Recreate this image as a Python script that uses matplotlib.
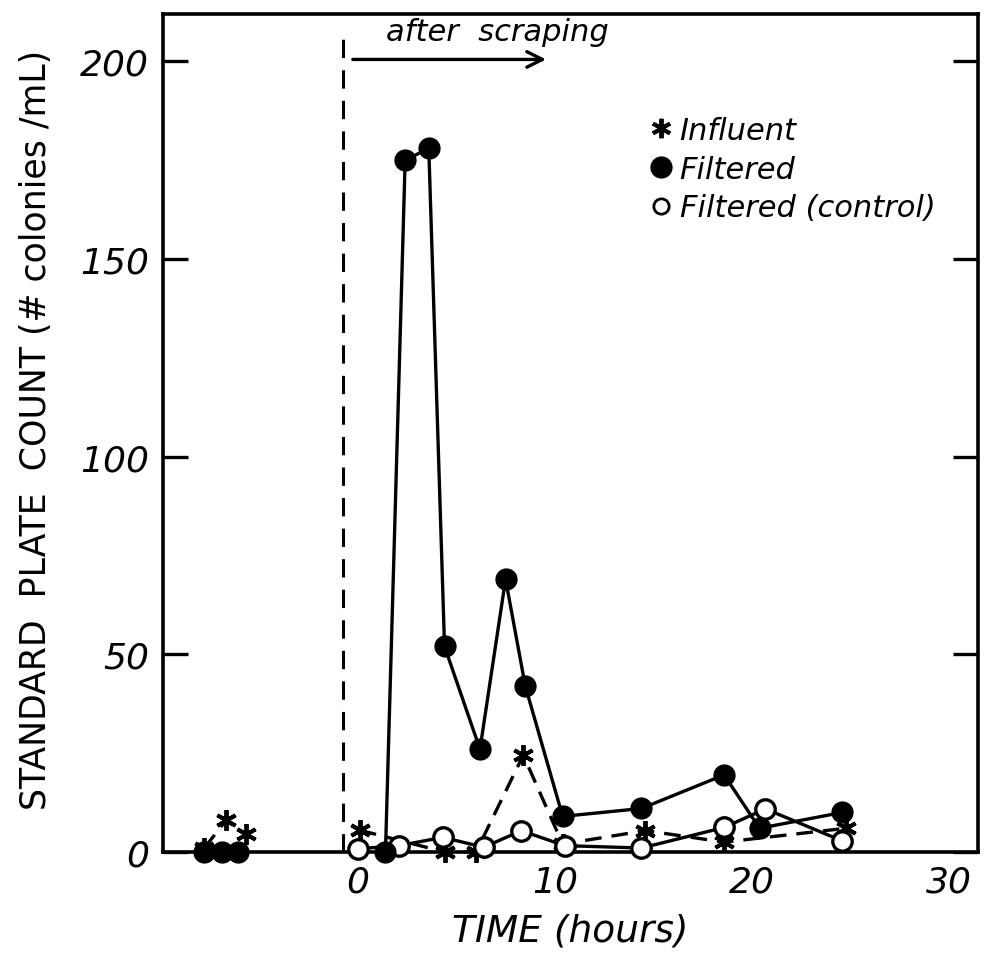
import matplotlib
matplotlib.use("Agg")
import matplotlib.pyplot as plt
from matplotlib.lines import Line2D

# Filtered (filled circles), before and after scraping
filt_pre_t = [-7.8, -6.9, -6.1]
filt_pre_v = [0, 0, 0]
filt_t = [1.4, 2.4, 3.6, 4.4, 6.2, 7.5, 8.5, 10.4, 14.4, 18.6, 20.4, 24.6]
filt_v = [0, 175, 178, 52, 26, 69, 42, 9, 11, 19.5, 6, 10]

# Influent (stars)
infl_pre_t = [-7.8, -6.7, -5.7]
infl_pre_v = [1, 8, 4.5]
infl_t = [0.1, 4.4, 6.0, 8.4, 10.4, 14.6, 18.6, 24.8]
infl_v = [5.5, 0, 0, 24.5, 2, 5.4, 2.5, 6]

# Filtered (control) (open circles)
ctrl_t = [0, 2.1, 4.3, 6.4, 8.3, 10.5, 14.4, 18.6, 20.7, 24.6]
ctrl_v = [0.8, 1.6, 3.7, 1.2, 5.4, 1.6, 1.0, 6.2, 10.9, 2.8]

scrape_t = -0.75
xticks = [0, 10, 20, 30]
yticks = [0, 50, 100, 150, 200]

plt.rcParams['font.family'] = ['DejaVu Sans']

fig = plt.figure(figsize=(9.97, 9.54), dpi=100)
ax = fig.add_axes([0.1635, 0.1059, 0.8175, 0.8784])

lw = 2.4
star = (6, 2, 0)
# influent dashed lines
ax.plot(infl_pre_t, infl_pre_v, color='k', lw=lw, ls=(0, (5, 3)), marker=star,
        ms=15, mew=2.8, clip_on=False, zorder=3)
ax.plot(infl_t, infl_v, color='k', lw=lw, ls=(0, (5, 3)), marker=star,
        ms=15, mew=2.8, clip_on=False, zorder=3)
# control
ax.plot(ctrl_t, ctrl_v, color='k', lw=lw, marker='o', ms=14, mfc='white', mec='k',
        mew=2.4, clip_on=False, zorder=4)
# filtered
ax.plot(filt_pre_t, filt_pre_v, color='k', lw=lw, marker='o', ms=15, clip_on=False, zorder=5)
ax.plot(filt_t, filt_v, color='k', lw=lw, marker='o', ms=15, clip_on=False, zorder=5)

# scraping marker
ax.plot([scrape_t, scrape_t], [0, 206], color='k', lw=2.2, ls=(0, (6, 4)))
ax.annotate('', xy=(9.7, 200.5), xytext=(-0.4, 200.5),
            arrowprops=dict(arrowstyle='->', color='k', lw=2.4, mutation_scale=28))
ax.text(7.1, 207.5, 'after  scraping', fontsize=22, style='italic', ha='center', va='center')

ax.set_xlim(-9.9, 31.5)
ax.set_ylim(0, 212)
ax.set_xticks(xticks)
ax.set_yticks(yticks)
ax.set_xticklabels([str(t) for t in xticks], fontsize=26, style='italic')
ax.set_yticklabels([str(t) for t in yticks], fontsize=26, style='italic')
ax.tick_params(axis='x', length=0, pad=9)
ax.tick_params(axis='y', direction='in', length=18, width=2.4, pad=10,
               right=True, left=True)
for s in ax.spines.values():
    s.set_linewidth(2.6)

ax.set_xlabel('TIME (hours)', fontsize=27, style='italic', labelpad=10)
ax.set_ylabel('STANDARD  PLATE  COUNT (# colonies /mL)', fontsize=25)
ax.yaxis.set_label_coords(-0.135, 0.505)

handles = [
    Line2D([], [], ls='none', marker=star, ms=14, mew=2.8, color='k'),
    Line2D([], [], ls='none', marker='o', ms=15, color='k'),
    Line2D([], [], ls='none', marker='o', ms=11, mfc='white', mec='k', mew=2),
]
ax.legend(handles, ['Influent', 'Filtered', 'Filtered (control)'],
          loc='upper left', bbox_to_anchor=(0.585, 0.893), frameon=False,
          prop={'size': 22, 'style': 'italic'}, handlelength=0.6,
          handletextpad=0.3, labelspacing=0.32, borderaxespad=0)

fig.savefig('out.png', dpi=100)
